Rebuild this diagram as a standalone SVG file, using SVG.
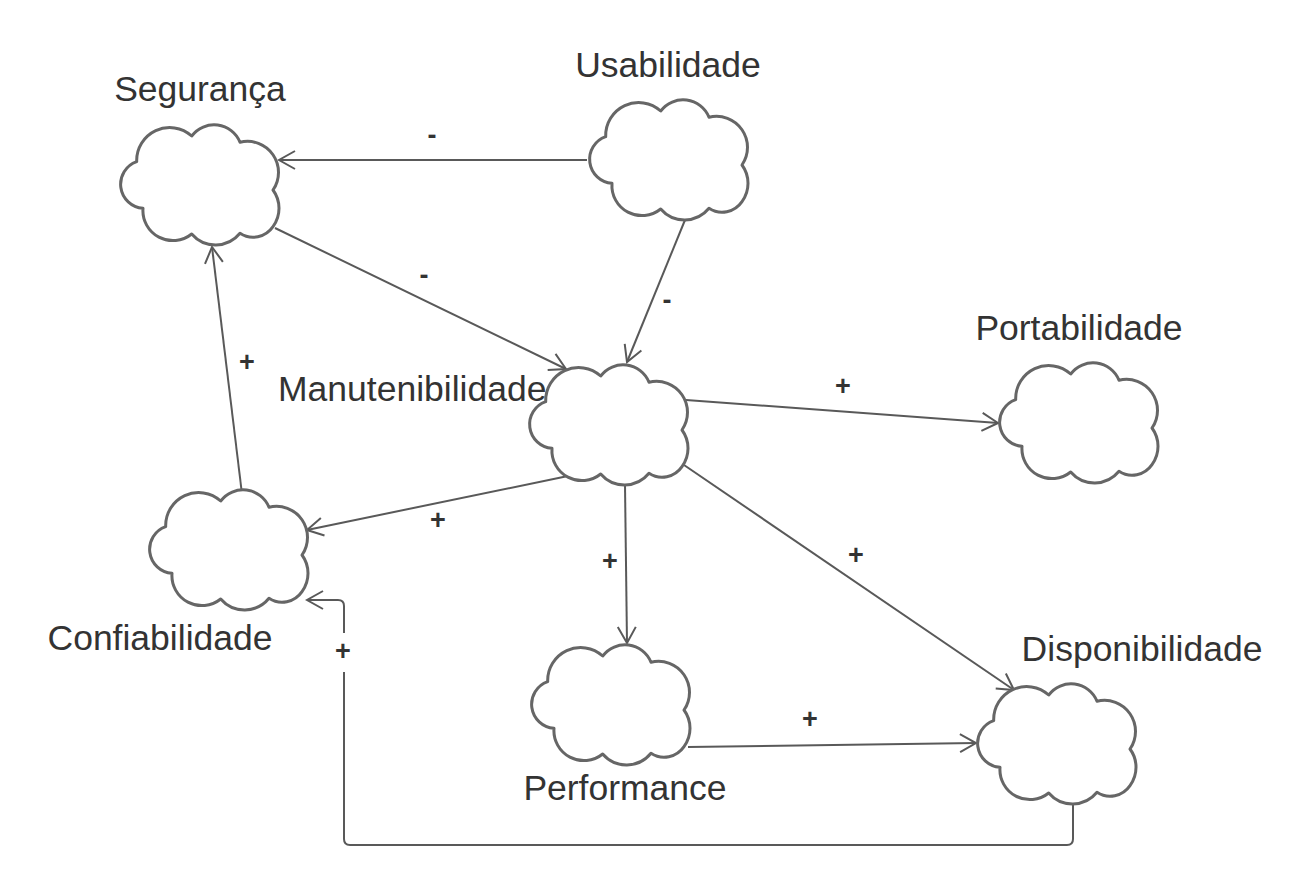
<svg xmlns="http://www.w3.org/2000/svg" width="1303" height="886" viewBox="0 0 1303 886">
<style>
.cloud{fill:#fff;stroke:#666;stroke-width:3;stroke-linejoin:round}
.lbl{font-family:"Liberation Sans",Arial,sans-serif;font-size:35.5px;fill:#333}
.sign{font-family:"Liberation Sans",Arial,sans-serif;font-size:27px;font-weight:bold;fill:#333;text-anchor:middle}
.edge{fill:none;stroke:#595959;stroke-width:2}
</style>
<defs>
<path id="cl" d="M17.7,36.7 A33,33 0 0 1 72.7,11 A28,28 0 0 1 121,17.3 A31,31 0 0 1 154,65 A31,31 0 0 1 154,101.7 A24,24 0 0 1 121,108.3 A31.5,31.5 0 0 1 72.7,109 A30,30 0 0 1 24,83.3 A24,24 0 0 1 17.7,36.7 Z"/>
<marker id="ah" markerUnits="userSpaceOnUse" viewBox="-18 -11 20 22" refX="0" refY="0" markerWidth="20" markerHeight="22" orient="auto">
<path d="M-16,-9 L0,0 L-16,9" fill="none" stroke="#595959" stroke-width="2"/>
</marker>
</defs>
<rect width="1303" height="886" fill="#fff"/>
<g id="connectors">
<line class="edge" x1="587" y1="160" x2="279" y2="160" marker-end="url(#ah)"/>
<line class="edge" x1="275" y1="228" x2="566" y2="369" marker-end="url(#ah)"/>
<line class="edge" x1="685" y1="220" x2="627" y2="362" marker-end="url(#ah)"/>
<line class="edge" x1="686" y1="400" x2="998" y2="423" marker-end="url(#ah)"/>
<line class="edge" x1="568" y1="476" x2="307" y2="530" marker-end="url(#ah)"/>
<line class="edge" x1="625" y1="485" x2="627" y2="643" marker-end="url(#ah)"/>
<line class="edge" x1="684" y1="465" x2="1014" y2="690" marker-end="url(#ah)"/>
<line class="edge" x1="688" y1="747" x2="976" y2="743" marker-end="url(#ah)"/>
<line class="edge" x1="242" y1="494" x2="212" y2="247" marker-end="url(#ah)"/>
<path class="edge" d="M1073,805 V839 Q1073,845 1067,845 H350 Q344,845 344,839 V672"/>
<path class="edge" d="M344,633 V606 Q344,600 338,600 H307" marker-end="url(#ah)"/>
<text class="sign" x="432" y="144">-</text>
<text class="sign" x="424" y="284">-</text>
<text class="sign" x="667" y="309">-</text>
<text class="sign" x="843" y="395">+</text>
<text class="sign" x="438" y="529">+</text>
<text class="sign" x="610" y="570">+</text>
<text class="sign" x="856" y="564">+</text>
<text class="sign" x="810" y="728">+</text>
<text class="sign" x="247" y="371">+</text>
<text class="sign" x="343" y="660">+</text>
</g>
<g id="seguranca">
<use href="#cl" class="cloud" transform="translate(119,125)"/>
<text class="lbl" x="200" y="101" text-anchor="middle">Segurança</text>
</g>
<g id="usabilidade">
<use href="#cl" class="cloud" transform="translate(588,100)"/>
<text class="lbl" x="668" y="77" text-anchor="middle">Usabilidade</text>
</g>
<g id="manutenibilidade">
<use href="#cl" class="cloud" transform="translate(528,365)"/>
<text class="lbl" x="278" y="401">Manutenibilidade</text>
</g>
<g id="portabilidade">
<use href="#cl" class="cloud" transform="translate(998,363)"/>
<text class="lbl" x="1079" y="340" text-anchor="middle">Portabilidade</text>
</g>
<g id="confiabilidade">
<use href="#cl" class="cloud" transform="translate(148,490)"/>
<text class="lbl" x="160" y="650" text-anchor="middle">Confiabilidade</text>
</g>
<g id="performance">
<use href="#cl" class="cloud" transform="translate(530,645)"/>
<text class="lbl" x="625" y="800" text-anchor="middle">Performance</text>
</g>
<g id="disponibilidade">
<use href="#cl" class="cloud" transform="translate(976,684)"/>
<text class="lbl" x="1142" y="661" text-anchor="middle">Disponibilidade</text>
</g>
</svg>
